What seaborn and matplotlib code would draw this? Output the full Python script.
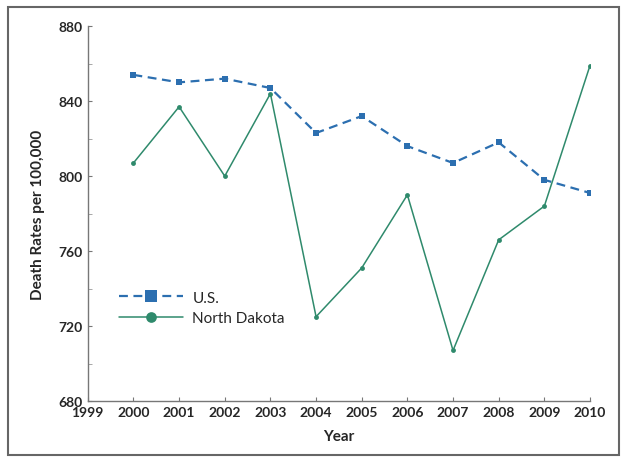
import pandas as pd
import numpy as np
import seaborn as sns
import matplotlib.pyplot as plt
from matplotlib.patches import Rectangle
from matplotlib.ticker import MultipleLocator

# data
years = [2000, 2001, 2002, 2003, 2004, 2005, 2006, 2007, 2008, 2009, 2010]
us_rates = [854, 850, 852, 847, 823, 832, 816, 807, 818, 798, 791]
nd_rates = [807, 837, 800, 844, 725, 751, 790, 707, 766, 784, 859]
x_ticks = list(range(1999, 2011))
y_ticks = [680, 720, 760, 800, 840, 880]

df = pd.DataFrame({'Year': years * 2,
                   'Rate': us_rates + nd_rates,
                   'Series': ['U.S.'] * len(years) + ['North Dakota'] * len(years)})

sns.set_style("white")
plt.rcParams['font.family'] = ['Lato', 'DejaVu Sans']

fig = plt.figure(figsize=(6.27, 4.6), dpi=100)
ax = fig.add_axes([0.140, 0.126, 0.801, 0.815])

blue = '#2c6fb0'
green = '#2f8a6c'

sns.lineplot(data=df[df['Series'] == 'U.S.'], x='Year', y='Rate', ax=ax,
             color=blue, linestyle=(0, (4, 2.5)), linewidth=1.6,
             marker='s', markersize=4, markeredgewidth=0, label='U.S.')
sns.lineplot(data=df[df['Series'] == 'North Dakota'], x='Year', y='Rate', ax=ax,
             color=green, linewidth=1.1,
             marker='o', markersize=3.5, markeredgewidth=0, label='North Dakota')

ax.set_xlim(1999, 2010)
ax.set_ylim(680, 880)
ax.set_xticks(x_ticks)
ax.set_yticks(y_ticks)
ax.yaxis.set_minor_locator(MultipleLocator(20))
ax.tick_params(axis='both', which='major', labelsize=10, length=3, color='#777777',
               direction='in')
ax.tick_params(axis='y', which='minor', length=3, color='#999999', direction='in', left=True)
ax.tick_params(axis='x', bottom=True)
ax.tick_params(axis='y', left=True)
for lab in ax.get_xticklabels() + ax.get_yticklabels():
    lab.set_fontweight('bold')

for side in ['top', 'right']:
    ax.spines[side].set_visible(False)
for side in ['left', 'bottom']:
    ax.spines[side].set_color('#777777')
    ax.spines[side].set_linewidth(1.0)

ax.set_xlabel('Year', fontsize=11, fontweight='bold', labelpad=8)
ax.set_ylabel('Death Rates per 100,000', fontsize=11, fontweight='bold', labelpad=10)

leg = ax.legend(loc='lower left', bbox_to_anchor=(0.035, 0.165), frameon=False,
                fontsize=11, markerscale=2.2, handlelength=4.2, handletextpad=0.6,
                labelspacing=0.45)

# outer frame around the chart
fig.patches.append(Rectangle((0.012, 0.008), 0.975, 0.975, transform=fig.transFigure,
                             fill=False, edgecolor='#666666', linewidth=1.5))

fig.savefig('out.png', dpi=100)
